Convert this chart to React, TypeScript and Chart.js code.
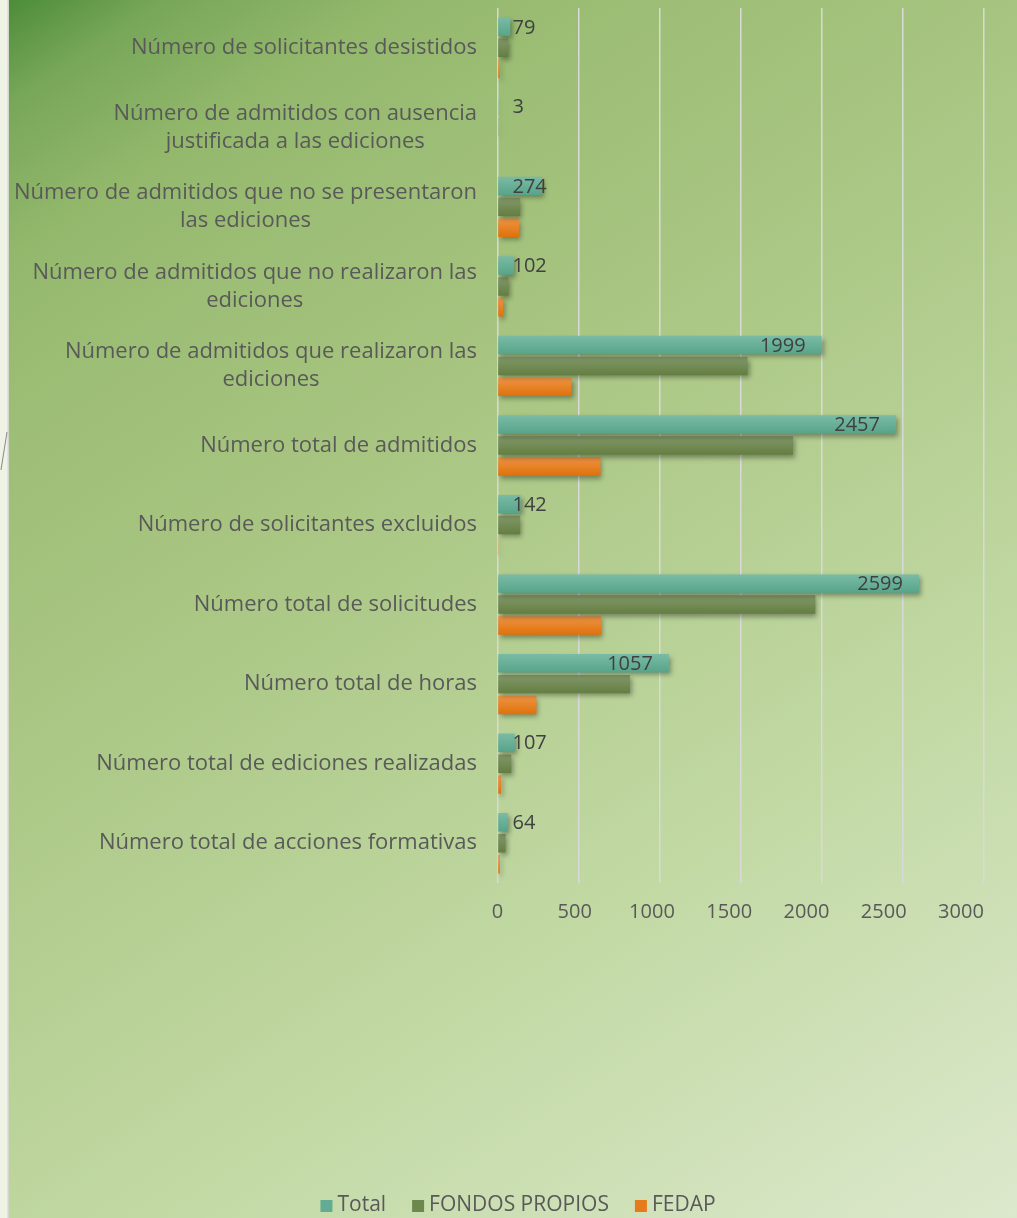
import React, { useEffect, useRef } from "react";
import { Chart, registerables } from "chart.js";

Chart.register(...registerables);

const categories: string[][] = [
  ["Número de solicitantes desistidos"],
  ["Número de admitidos con ausencia", "justificada a las ediciones"],
  ["Número de admitidos que no se presentaron", "las ediciones"],
  ["Número de admitidos que no realizaron las", "ediciones"],
  ["Número de admitidos que realizaron las", "ediciones"],
  ["Número total de admitidos"],
  ["Número de solicitantes excluidos"],
  ["Número total de solicitudes"],
  ["Número total de horas"],
  ["Número total de ediciones realizadas"],
  ["Número total de acciones formativas"],
];

const seriesNames = ["Total", "FONDOS PROPIOS", "FEDAP"];
const totalValues = [79, 3, 274, 102, 1999, 2457, 142, 2599, 1057, 107, 64];
const fondosValues = [66, 3, 140, 68, 1542, 1822, 140, 1960, 817, 85, 50];
const fedapValues = [13, 0, 134, 34, 457, 635, 2, 639, 240, 22, 14];
const xTickValues = [0, 500, 1000, 1500, 2000, 2500, 3000];

const seriesColors = ["#62ac94", "#6d884d", "#e77b1c"];
const gradTop = ["#7abba5", "#82986a", "#ef9445"];
const gradBottom = ["#57a48a", "#647e41", "#df710a"];
const FONT = "'Open Sans', 'Liberation Sans', sans-serif";

const CAT_PCT = 0.79;
const BAR_PCT = 0.88;
const W = 1017;
const H = 1218;

function barFill(ctx: any) {
  const chart = ctx.chart;
  const ds = ctx.datasetIndex;
  const yScale = chart.scales && chart.scales.y;
  if (!yScale || ctx.dataIndex === undefined || !chart.chartArea) return seriesColors[ds];
  const catH = (yScale.bottom - yScale.top) / categories.length;
  const pitch = (catH * CAT_PCT) / 3;
  const half = (pitch * BAR_PCT) / 2;
  const yc = yScale.getPixelForValue(ctx.dataIndex) + (ds - 1) * pitch;
  if (!isFinite(yc)) return seriesColors[ds];
  const g = chart.ctx.createLinearGradient(0, yc - half, 0, yc + half);
  g.addColorStop(0, gradTop[ds]);
  g.addColorStop(1, gradBottom[ds]);
  return g;
}

const backgroundPlugin = {
  id: "bgPlugin",
  beforeDraw(chart: any) {
    const ctx = chart.ctx as CanvasRenderingContext2D;
    ctx.save();
    ctx.fillStyle = "#eff3e5";
    ctx.fillRect(0, 0, W, H);
    const g = ctx.createLinearGradient(0, 0, 1010, 1532);
    g.addColorStop(0, "#4a8b36");
    g.addColorStop(0.05, "#78a759");
    g.addColorStop(0.12, "#93b86c");
    g.addColorStop(0.2, "#9dbe76");
    g.addColorStop(0.3, "#a6c47f");
    g.addColorStop(0.6, "#c2d9a4");
    g.addColorStop(0.85, "#dbe8cb");
    g.addColorStop(1, "#e2ecd4");
    ctx.fillStyle = g;
    ctx.fillRect(9, 0, W - 9, H);
    ctx.fillStyle = "#d3d6cb";
    ctx.fillRect(7.5, 0, 1.5, H);
    ctx.strokeStyle = "rgba(110,110,110,0.8)";
    ctx.lineWidth = 1;
    ctx.beginPath();
    ctx.moveTo(7, 432);
    ctx.lineTo(1, 470);
    ctx.stroke();
    ctx.restore();
  },
};

const shadowPlugin = {
  id: "shadowPlugin",
  beforeDatasetsDraw(chart: any) {
    const ctx = chart.ctx as CanvasRenderingContext2D;
    ctx.save();
    ctx.shadowColor = "rgba(0,0,0,0.35)";
    ctx.shadowBlur = 5;
    ctx.shadowOffsetX = 2;
    ctx.shadowOffsetY = 3;
  },
  afterDatasetsDraw(chart: any) {
    chart.ctx.restore();
  },
};

const labelsPlugin = {
  id: "labelsPlugin",
  afterDraw(chart: any) {
    const ctx = chart.ctx as CanvasRenderingContext2D;
    const yScale = chart.scales.y;
    const xScale = chart.scales.x;
    ctx.save();
    // category labels
    ctx.font = `22px ${FONT}`;
    ctx.fillStyle = "#595959";
    ctx.textBaseline = "middle";
    ctx.textAlign = "center";
    const lineH = 28;
    categories.forEach((lines, i) => {
      const yc = yScale.getPixelForValue(i);
      const bw = Math.max(...lines.map((l) => ctx.measureText(l).width));
      const cx = 477 - bw / 2;
      lines.forEach((l, j) => {
        ctx.fillText(l, cx, yc + (j - (lines.length - 1) / 2) * lineH);
      });
    });
    // value labels on Total bars
    ctx.font = `20px ${FONT}`;
    ctx.fillStyle = "#404040";
    ctx.textAlign = "right";
    const zeroX = xScale.getPixelForValue(0);
    const meta = chart.getDatasetMeta(0);
    meta.data.forEach((el: any, i: number) => {
      const txt = String(totalValues[i]);
      const w = ctx.measureText(txt).width;
      const right = Math.max(el.x - 16, zeroX + 15 + w);
      ctx.fillText(txt, right, el.y + 1);
    });
    // legend
    ctx.font = `21px ${FONT}`;
    ctx.textAlign = "left";
    ctx.fillStyle = "#595959";
    const box = 12;
    const gapBox = 5;
    const gapItem = 26;
    const widths = seriesNames.map((n) => box + gapBox + ctx.measureText(n).width);
    const total = widths.reduce((a, b) => a + b, 0) + gapItem * (seriesNames.length - 1);
    let x = 518 - total / 2;
    const ly = 1205;
    seriesNames.forEach((n, i) => {
      ctx.fillStyle = seriesColors[i];
      ctx.fillRect(x, ly - 5, box, box);
      ctx.fillStyle = "#595959";
      ctx.fillText(n, x + box + gapBox, ly);
      x += widths[i] + gapItem;
    });
    ctx.restore();
  },
};

export default function App() {
  const canvasRef = useRef<HTMLCanvasElement | null>(null);

  useEffect(() => {
    if (!canvasRef.current) return;
    const chart = new Chart(canvasRef.current, {
      type: "bar",
      data: {
        labels: categories.map((c) => c.join(" ")),
        datasets: [
          { label: seriesNames[0], data: totalValues, backgroundColor: barFill },
          { label: seriesNames[1], data: fondosValues, backgroundColor: barFill },
          { label: seriesNames[2], data: fedapValues, backgroundColor: barFill },
        ],
      },
      options: {
        indexAxis: "y",
        responsive: false,
        maintainAspectRatio: false,
        animation: false,
        datasets: {
          bar: { categoryPercentage: CAT_PCT, barPercentage: BAR_PCT },
        },
        layout: { padding: { left: 497.5, right: 33, top: 8, bottom: 0 } },
        plugins: {
          legend: { display: false },
          tooltip: { enabled: false },
        },
        scales: {
          y: { display: false },
          x: {
            min: 0,
            max: 3000,
            weight: 0,
            afterBuildTicks: (scale: any) => {
              scale.ticks = xTickValues.map((v) => ({ value: v }));
            },
            afterFit: (scale: any) => {
              scale.height = 0;
            },
            border: { display: false },
            grid: { color: "#d9d9d9", lineWidth: 1.5, drawTicks: false },
            ticks: { display: false },
          },
          x2: {
            type: "linear",
            position: "bottom",
            min: 0,
            max: 3149,
            weight: 1,
            afterBuildTicks: (scale: any) => {
              scale.ticks = xTickValues.map((v) => ({ value: v }));
            },
            afterFit: (scale: any) => {
              scale.height = H - 883;
            },
            border: { display: false },
            grid: { display: false, drawTicks: false },
            ticks: {
              color: "#595959",
              font: { family: FONT, size: 20 },
              padding: 17,
              maxRotation: 0,
              callback: (v: any) => String(v),
            },
          },
        },
      },
      plugins: [backgroundPlugin, shadowPlugin, labelsPlugin],
    });
    return () => chart.destroy();
  }, []);

  return (
    <div style={{ position: "absolute", left: 0, top: 0, width: W, height: H }}>
      <canvas ref={canvasRef} width={W} height={H} style={{ display: "block" }} />
    </div>
  );
}
